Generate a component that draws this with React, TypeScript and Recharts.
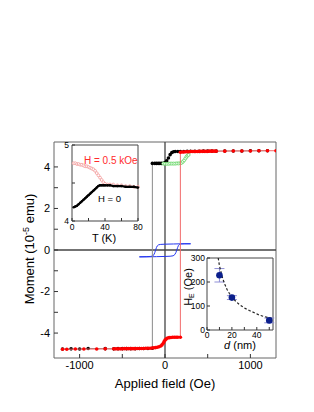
import React from "react";
import {
  ComposedChart,
  Scatter,
  XAxis,
  YAxis,
  ReferenceLine,
  ReferenceArea,
  ErrorBar,
} from "recharts";

const FONT = "'Liberation Sans', Arial, Helvetica, sans-serif";

// main loop: field in Oe, moment in 10^-5 emu
// black = coming down from +H
const blackField = [
  1200, 1100, 1000, 900, 800, 700, 600, 550, 500, 450, 400, 350, 300, 260,
  220, 180, 150, 120, 100, 80, 60, 40, 20, 0, -20, -40, -60, -80, -100, -120,
  -148, -148, -200, -250, -300, -350, -400, -450, -500, -550, -600, -700,
  -900, -1000, -1100, -1200,
];
const blackMoment = [
  4.78, 4.78, 4.78, 4.77, 4.77, 4.77, 4.76, 4.76, 4.76, 4.76, 4.75, 4.75,
  4.75, 4.75, 4.74, 4.74, 4.74, 4.74, 4.73, 4.69, 4.59, 4.43, 4.29, 4.21,
  4.18, 4.17, 4.17, 4.17, 4.17, 4.17, 4.17, -4.73, -4.74, -4.74, -4.74, -4.75,
  -4.75, -4.75, -4.75, -4.75, -4.76, -4.75, -4.74, -4.77, -4.76, -4.77,
];

// red = going up from -H
const redField = [
  -1200, -1150, -1050, -950, -800, -700, -600, -575, -550, -525, -500, -475,
  -450, -425, -400, -375, -350, -325, -300, -275, -250, -225, -200, -175,
  -150, -130, -110, -90, -70, -50, -35, -20, -10, 0, 15, 30, 50, 70, 90, 110,
  130, 150, 180, 180, 200, 220, 240, 260, 280, 300, 320, 340, 360, 380, 400,
  420, 440, 460, 480, 500, 520, 540, 560, 580, 600, 700, 800, 900, 1000, 1100,
  1200, 1300,
];
const redMoment = [
  -4.78, -4.78, -4.77, -4.77, -4.77, -4.76, -4.76, -4.76, -4.76, -4.76, -4.76,
  -4.75, -4.75, -4.75, -4.75, -4.75, -4.75, -4.74, -4.74, -4.74, -4.74, -4.73,
  -4.73, -4.73, -4.72, -4.71, -4.7, -4.68, -4.66, -4.62, -4.57, -4.49, -4.41,
  -4.34, -4.28, -4.24, -4.22, -4.21, -4.2, -4.2, -4.2, -4.2, -4.2, 4.71, 4.72,
  4.72, 4.73, 4.73, 4.73, 4.74, 4.74, 4.74, 4.74, 4.74, 4.75, 4.75, 4.75,
  4.75, 4.75, 4.75, 4.76, 4.76, 4.76, 4.76, 4.76, 4.76, 4.77, 4.77, 4.77,
  4.78, 4.78, 4.78,
];

// green minor loop
const greenField = [
  -20, 0, 20, 40, 60, 80, 100, 120, 140, 160, 180, 195, 210, 225, 240, 252,
  264, 276,
];
const greenMoment = [
  4.16, 4.15, 4.15, 4.15, 4.16, 4.16, 4.16, 4.16, 4.17, 4.17, 4.18, 4.2, 4.25,
  4.32, 4.41, 4.49, 4.55, 4.58,
];

// blue small loop
const blueDownField = [
  300, 200, 100, 0, -50, -75, -90, -100, -110, -120, -130, -145, -170, -220,
  -300,
];
const blueDownMoment = [
  0.3, 0.3, 0.29, 0.28, 0.27, 0.25, 0.2, 0.12, 0.0, -0.13, -0.23, -0.29, -0.31,
  -0.32, -0.33,
];
const blueUpField = [
  -300, -200, -100, 0, 60, 95, 115, 128, 138, 148, 158, 170, 190, 230, 300,
];
const blueUpMoment = [
  -0.33, -0.33, -0.32, -0.31, -0.3, -0.28, -0.22, -0.12, 0.0, 0.12, 0.22, 0.27,
  0.29, 0.3, 0.3,
];

const mainXDomain = [-1300, 1300];
const mainYDomain = [-5.2, 5.2];
const mainXTicks = [-1000, -500, 0, 500, 1000];
const mainXLabels = [-1000, 0, 1000];
const mainYTicks = [-4, -3, -2, -1, 0, 1, 2, 3, 4];
const mainYLabels = [-4, -2, 0, 2, 4];

// inset: moment vs temperature
const insetT = [
  2, 4, 6, 8, 10, 12, 14, 16, 18, 20, 22, 24, 26, 28, 30, 32, 34, 36, 38, 40,
  43, 46, 50, 55, 60, 65, 70, 75, 80,
];
const insetRed = [
  4.76, 4.76, 4.75, 4.75, 4.74, 4.74, 4.73, 4.72, 4.72, 4.71, 4.7, 4.69, 4.68,
  4.66, 4.63, 4.6, 4.57, 4.54, 4.51, 4.49, 4.48, 4.48, 4.48, 4.47, 4.47, 4.46,
  4.46, 4.45, 4.45,
];
const insetBlack = [
  4.18, 4.19, 4.2, 4.22, 4.24, 4.26, 4.28, 4.3, 4.32, 4.34, 4.36, 4.38, 4.4,
  4.42, 4.44, 4.46, 4.47, 4.47, 4.47, 4.47, 4.47, 4.47, 4.46, 4.46, 4.46,
  4.45, 4.45, 4.45, 4.44,
];
const tXDomain = [0, 80];
const tYDomain = [4, 5];
const tXTicks = [0, 20, 40, 60, 80];
const tXLabels = [0, 40, 80];
const tYTicks = [4, 4.5, 5];
const tYLabels = [4, 5];

// inset: exchange bias vs thickness
const thick = [10, 20, 50];
const hE = [228, 135, 40];
const hEErr = [28, 8, 10];
const fitD = [9, 10, 12, 14, 16, 18, 20, 23, 26, 30, 34, 38, 42, 46, 50, 53];
const fitHE = [300, 268, 225, 194, 170, 152, 137, 120, 106, 92, 81, 72, 62, 56, 51, 48];
const dXDomain = [0, 53];
const dYDomain = [0, 300];
const dXTicks = [0, 10, 20, 30, 40, 50];
const dXLabels = [0, 20, 40];
const dYTicks = [0, 100, 200, 300];

const zip = (xs: number[], ys: number[]) => xs.map((x, i) => ({ x, y: ys[i] }));

type TickOpts = {
  side: "left" | "bottom" | "top";
  show: number[];
  len: number;
  gap: number;
  fs: number;
};

// ticks point inwards, labels outside
const inTick = (o: TickOpts) => (p: any) => {
  const { x, y, payload } = p;
  const v = payload.value;
  const txt = o.show.includes(v) ? String(v) : "";
  const st = "#333";
  if (o.side === "bottom") {
    return (
      <g>
        <line x1={x} y1={y} x2={x} y2={y - o.len} stroke={st} />
        {txt && (
          <text x={x} y={y + o.gap} textAnchor="middle" fontSize={o.fs} fontFamily={FONT} fill="#000">
            {txt}
          </text>
        )}
      </g>
    );
  }
  if (o.side === "top") {
    return (
      <g>
        <line x1={x} y1={y} x2={x} y2={y + o.len} stroke={st} />
      </g>
    );
  }
  return (
    <g>
      <line x1={x} y1={y} x2={x + o.len} y2={y} stroke={st} />
      {txt && (
        <text x={x - o.gap} y={y + o.fs * 0.36} textAnchor="end" fontSize={o.fs} fontFamily={FONT} fill="#000">
          {txt}
        </text>
      )}
    </g>
  );
};

const dot = (r: number, fill: string) => (p: any) => (
  <circle cx={p.cx} cy={p.cy} r={r} fill={fill} stroke="none" />
);
const ring = (r: number, stroke: string) => (p: any) => (
  <circle cx={p.cx} cy={p.cy} r={r} fill="#fff" stroke={stroke} strokeWidth={0.8} />
);
const none = () => <g />;

const TempInset = () => (
  <div style={{ position: "absolute", left: 40, top: 130, width: 110, height: 120 }}>
    <ComposedChart width={110} height={120} margin={{ top: 15, right: 12, bottom: 9, left: 12 }}>
      <XAxis
        type="number"
        dataKey="x"
        domain={tXDomain}
        ticks={tXTicks}
        interval={0}
        height={20}
        tickSize={0}
        tickMargin={0}
        axisLine={false}
        tickLine={false}
        tick={inTick({ side: "bottom", show: tXLabels, len: 3, gap: 9, fs: 8.5 })}
      />
      <YAxis
        type="number"
        dataKey="y"
        domain={tYDomain}
        ticks={tYTicks}
        interval={0}
        width={20}
        tickSize={0}
        tickMargin={0}
        axisLine={false}
        tickLine={false}
        tick={inTick({ side: "left", show: tYLabels, len: 3, gap: 3, fs: 8.5 })}
      />
      <ReferenceArea x1={tXDomain[0]} x2={tXDomain[1]} y1={tYDomain[0]} y2={tYDomain[1]} fill="none" stroke="#444" />
      <Scatter
        data={zip(insetT, insetRed)}
        line={{ stroke: "#f6b0b0", strokeWidth: 1 }}
        shape={ring(1.4, "#f39a9a")}
        isAnimationActive={false}
      />
      <Scatter
        data={zip(insetT, insetBlack)}
        line={{ stroke: "#000", strokeWidth: 2.2 }}
        shape={dot(1.2, "#000")}
        isAnimationActive={false}
      />
      <text x={44} y={33.5} fontSize={10} fontFamily={FONT} fill="#ff2b2b">
        H = 0.5 kOe
      </text>
      <text x={58} y={71.5} fontSize={9.5} fontFamily={FONT} fill="#000">
        H = 0
      </text>
      <text x={64} y={112} textAnchor="middle" fontSize={11} fontFamily={FONT} fill="#000">
        T (K)
      </text>
    </ComposedChart>
  </div>
);

const BiasInset = () => (
  <div style={{ position: "absolute", left: 180, top: 250, width: 96, height: 105 }}>
    <ComposedChart width={96} height={105} margin={{ top: 8, right: 3, bottom: 5, left: 7 }}>
      <XAxis
        type="number"
        dataKey="x"
        domain={dXDomain}
        ticks={dXTicks}
        interval={0}
        height={20}
        tickSize={0}
        tickMargin={0}
        axisLine={false}
        tickLine={false}
        tick={inTick({ side: "bottom", show: dXLabels, len: 3, gap: 7.5, fs: 8.5 })}
      />
      <XAxis
        xAxisId="top"
        orientation="top"
        type="number"
        domain={dXDomain}
        ticks={dXTicks}
        interval={0}
        height={0}
        tickSize={0}
        tickMargin={0}
        axisLine={false}
        tickLine={false}
        tick={inTick({ side: "top", show: [], len: 3, gap: 0, fs: 8 })}
      />
      <YAxis
        type="number"
        dataKey="y"
        domain={dYDomain}
        ticks={dYTicks}
        interval={0}
        width={20}
        tickSize={0}
        tickMargin={0}
        axisLine={false}
        tickLine={false}
        tick={inTick({ side: "left", show: dYTicks, len: 3, gap: 2, fs: 8.5 })}
      />
      <ReferenceArea x1={dXDomain[0]} x2={dXDomain[1]} y1={dYDomain[0]} y2={dYDomain[1]} fill="none" stroke="#444" />
      <Scatter
        data={zip(fitD, fitHE)}
        line={{ stroke: "#222", strokeWidth: 1.2, strokeDasharray: "2.5 2" }}
        shape={none}
        isAnimationActive={false}
      />
      <Scatter
        data={thick.map((d, i) => ({ x: d, y: hE[i], err: hEErr[i] }))}
        shape={dot(3.3, "#0b1f8c")}
        isAnimationActive={false}
      >
        <ErrorBar dataKey="err" direction="y" width={5} stroke="#8f8fd6" strokeWidth={1} />
      </Scatter>
      <text x={60} y={99} textAnchor="middle" fontSize={11} fontFamily={FONT} fill="#000">
        <tspan fontStyle="italic">d</tspan> (nm)
      </text>
      <text
        x={12}
        y={37}
        transform="rotate(-90 12 37)"
        textAnchor="middle"
        fontSize={11}
        fontFamily={FONT}
        fill="#000"
      >
        H<tspan fontSize={7} dy={2}>E</tspan>
        <tspan dy={-2}> (Oe)</tspan>
      </text>
    </ComposedChart>
  </div>
);

export default function App() {
  return (
    <div style={{ position: "absolute", left: 0, top: 0, width: 314, height: 412, background: "#fff" }}>
      <ComposedChart width={314} height={412} margin={{ top: 142, right: 38, bottom: 24, left: 14 }}>
        <XAxis
          type="number"
          dataKey="x"
          domain={mainXDomain}
          ticks={mainXTicks}
          interval={0}
          height={30}
          tickSize={0}
          tickMargin={0}
          axisLine={false}
          tickLine={false}
          allowDataOverflow
          tick={inTick({ side: "bottom", show: mainXLabels, len: 4, gap: 11, fs: 11 })}
        />
        <YAxis
          type="number"
          dataKey="y"
          domain={mainYDomain}
          ticks={mainYTicks}
          interval={0}
          width={40}
          tickSize={0}
          tickMargin={0}
          axisLine={false}
          tickLine={false}
          allowDataOverflow
          tick={inTick({ side: "left", show: mainYLabels, len: 4, gap: 4, fs: 11 })}
        />
        <ReferenceArea
          x1={mainXDomain[0]}
          x2={mainXDomain[1]}
          y1={mainYDomain[0]}
          y2={mainYDomain[1]}
          fill="none"
          stroke="#666"
        />
        <ReferenceLine x={0} stroke="#444" strokeWidth={1.3} />
        <ReferenceLine y={0} stroke="#444" strokeWidth={1.3} />
        <Scatter
          data={zip(blueDownField, blueDownMoment)}
          line={{ stroke: "#2436f0", strokeWidth: 1 }}
          shape={none}
          isAnimationActive={false}
        />
        <Scatter
          data={zip(blueUpField, blueUpMoment)}
          line={{ stroke: "#2436f0", strokeWidth: 1 }}
          shape={none}
          isAnimationActive={false}
        />
        <Scatter
          data={zip(blackField, blackMoment)}
          line={{ stroke: "#8a8a8a", strokeWidth: 1 }}
          shape={dot(1.8, "#000")}
          isAnimationActive={false}
        />
        <Scatter
          data={zip(greenField, greenMoment)}
          shape={ring(1.5, "#5fd45f")}
          isAnimationActive={false}
        />
        <Scatter
          data={zip(redField, redMoment)}
          line={{ stroke: "#f26a6a", strokeWidth: 1 }}
          shape={dot(1.8, "#f00")}
          isAnimationActive={false}
        />
        <text x={165} y={388} textAnchor="middle" fontSize={13} fontFamily={FONT} fill="#000">
          Applied field (Oe)
        </text>
        <text
          x={34}
          y={249}
          transform="rotate(-90 34 249)"
          textAnchor="middle"
          fontSize={13}
          fontFamily={FONT}
          fill="#000"
        >
          Moment (10<tspan fontSize={9} dy={-5}>-5</tspan>
          <tspan dy={5}> emu)</tspan>
        </text>
      </ComposedChart>
      <TempInset />
      <BiasInset />
    </div>
  );
}
